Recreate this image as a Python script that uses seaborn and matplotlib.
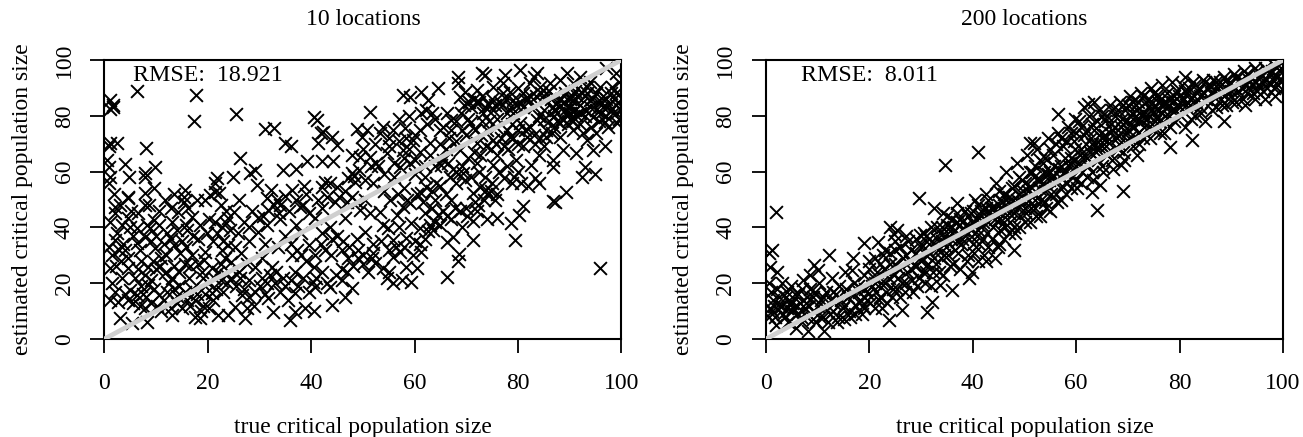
import pandas as pd
import matplotlib
matplotlib.use("Agg")
import matplotlib.pyplot as plt
import seaborn as sns

"""Values read off the reference, as (true, estimated) pairs"""
points_10 = [
    (6.4,88.9),(17.8,87.6),(17.4,78.3),(25.4,80.5),(1,85.7),(1.7,83.3),(1.1,82.3),(1.6,83.8),(31.1,75.3),(32.8,75.6),
    (40.5,79.7),(41.1,78.5),(35,70.4),(36,69.3),(41.9,73.7),(42.2,74.3),(41.4,70.1),(44,72.3),(45,69.5),(48.8,75.2),
    (49.8,72.5),(47.9,66),(49.5,65.4),(1.1,70.1),(2.4,70.1),(0.8,69),(8.1,68.5),(0.5,64.2),(0.8,61.8),(3.9,62.7),
    (4.8,58.2),(1.1,58.2),(0.8,55.8),(9.8,61.8),(7.9,59.6),(7.9,58.2),(26.3,64.8),(29.2,60.6),(28.2,59.6),(24.8,58),
    (21.7,57.6),(21.4,55.8),(34.6,60.6),(37.1,60.8),(39.2,63.8),(42,63.8),(44.3,63.8),(42.7,56.4),(43.7,55.8),(42,54.6),
    (44.9,54.6),(47.9,59.4),(49.2,60.6),(47.2,57.6),(48.5,56.4),(48.2,58.6),(29.6,55.2),(32.2,53.4),(36.3,53.4),(38.7,55),
    (9.5,54),(7.9,52.2),(15.6,53.4),(15.3,51),(4.6,51),(21.4,52.8),(20.5,51.6),(22.2,52.2),(35,51.4),(31.4,50.6),
    (2.1,47.4),(4.6,50.4),(7.9,48),(8.7,48.2),(11.7,49.8),(15.3,49.2),(19.5,49.8),(14.3,45.6),(16.9,43.8),(4.6,43.2),
    (9.5,42.7),(1.1,42),(2.1,45),(21.4,42),(25,45.6),(24,43.2),(22.7,40.3),(23.6,41.6),(25.9,37.9),(6.3,39.7),
    (8.8,39.7),(7.9,36.7),(12.1,37.9),(2.1,35.5),(4,31.9),(6.3,34.3),(9.8,32.5),(13.4,33.7),(14.6,30.7),(18.2,36),
    (24,33.7),(25.3,33.1),(22.7,31.9),(19.5,31.3),(19.2,28.3),(4.6,25.3),(1.1,25.3),(8.5,25.9),(11.7,23.5),(16.3,21.7),
    (18.8,24.1),(20.8,25.3),(1.4,20),(2.1,17),(2.7,13.4),(6.3,15.8),(8.5,19.4),(10.5,15.8),(12.1,17),(7.9,11),
    (3,7.4),(5.4,5.6),(8.2,6.2),(13,8.6),(15,11),(17.5,8),(18.5,7.4),(22,8.6),(24,8.6),(27.2,7.4),
    (25.3,11.6),(27.5,11),(35.9,6.8),(36.9,9.8),(38.8,11),(40.5,10),(44,12.2),(46.6,15.2),(47.9,18.2),(43.7,18.8),
    (40.8,18.8),(40.4,20.6),(36.9,16.4),(35.6,14),(32.7,9.8),(31.7,14.6),(29.8,43.2),(29.8,38.5),(31.7,46.2),(33.7,45),
    (37.9,47.4),(40.8,43.2),(43.7,40.3),(46.6,43.2),(49.5,46.2),(48.8,36),(45.9,31.9),(47.2,28.9),(39.5,33.7),(40.8,30.1),
    (40.5,25.9),(36.9,24.1),(36.3,30.1),(32.4,25.9),(29.2,25.9),(26.3,21.7),(23.7,20),(20.8,16.4),(26.6,15.8),(29.2,17),
    (31,16),(33,20),(34.5,22),(30.5,29),(27.5,27),(24.5,27.5),(22,24),(17,18),(14,15.5),(12.5,20),
    (10,25),(7,28),(3.5,22),(5,17.5),(9,13),(11,10),(14,13),(16,14),(19,12),(21,14),
    (23,17),(28,21),(33.5,33),(35,37),(38,38),(37,41),(34,43),(31.5,41),(28,35),(26.5,31),
    (2.5,38),(0.8,33),(3.5,41),(5.5,37),(10.5,41),(13,42),(16,39),(19.8,38),(21,35),(17,30),
    (15.5,27),(13.5,26),(6,22),(3.2,28),(1.5,30),(9,21),(11,29),(7.5,16),(1,14),(18,16),
    (46,25),(44,36),(42,38),(42,47),(44.6,49),(47,49),(39,52),(34,48),(31,34),(28.5,46),
    (51.3,81.2),(57.8,87.5),(59.1,86.9),(61.3,88.6),(64.6,90.1),(62.6,85.7),(62.3,82.1),(61.3,80.9),(63.3,80.9),(68.4,94),
    (68.4,91.6),(73,95.2),(73.7,94.6),(77.5,94.6),(80.4,96.4),(77.1,91.6),(83,94),(83.6,95.2),(89.4,95.2),(92,94),
    (97.1,97),(99,95.2),(69.7,88.6),(68.8,86.9),(72,89.2),(75.2,90.4),(78.4,88.6),(79.1,85.7),(77.1,88),(81,88),
    (82.3,91.6),(84.2,90.4),(86.2,91.6),(88.1,92.8),(90.7,91.6),(93.3,90.4),(95.9,90.4),(98.1,90.4),(99,88),(86.8,83.3),
    (88.8,84.5),(90.7,85.7),(92,83.9),(93.9,85.7),(96.5,83.3),(98.4,80.9),(89.4,80.9),(91.3,80.3),(94.6,79.7),(96.8,77.9),
    (99.1,77.3),(88.1,77.3),(96.8,69.2),(94.6,67.7),(91.3,66.8),(88.8,67.7),(86.8,64.2),(86.7,61.8),(92.9,61.8),(92.3,58.2),
    (94.9,59.1),(89.3,52.8),(86.8,49.5),(83.3,57.6),(82.6,62.4),(79.7,64.2),(81,69),(78.8,55.8),(77.2,57.6),(73.9,53.4),
    (72.6,54.6),(71.3,52.2),(75.2,62.4),(72,63),(69.4,59.4),(65.2,62.4),(64.2,55.8),(62.3,54.6),(61.3,52.2),(57.1,61.8),
    (59.1,63),(52.6,63),(51.3,65.4),(53.3,73.7),(55.9,74.9),(58.1,75.5),(50.7,74.9),(53.9,76.1),(59.7,71.3),(63,70.1),
    (64.9,74.9),(67.1,78.5),(66.2,80.9),(70.7,77.3),(73.3,80.9),(72,84.5),(75.2,82),(77.8,80.9),(80.4,77.3),(83.6,78.5),
    (85.5,72.5),(88.1,72.5),(90.7,74.9),(93.3,71.3),(81.7,72.5),(78.4,72.5),(75.2,71.3),(72,70.1),(68.8,67.7),(65.5,64.2),
    (57.8,67.7),(54.6,66.5),(95.9,25.6),(79.4,35.5),(78.6,41.5),(80.2,44.4),(81,47.7),(76,43.5),(87.1,49.2),(71.2,42.3),
    (71.2,35.5),(69.1,40.3),(67.5,36.7),(66.2,34.9),(68.6,30.3),(68.4,28),(66.2,22.3),(59.4,20.5),(57.5,21.1),(55.9,20),
    (54.6,21.7),(60.4,25.3),(58.4,25.9),(55.9,29.5),(57.1,31.3),(61.3,31.3),(59.7,30.1),(51.7,28.9),(52.3,27.1),(53.9,25.3),
    (55.9,35.5),(58.4,36.1),(54.9,39.7),(63.6,39),(62.6,38.6),(61,39.7),(59.4,41.5),(64.6,44.4),(63.3,46.8),(67.1,49.8),
    (71.7,49.2),(75.5,49.8),(57.8,47.4),(53.3,45.6),(56.5,44.4),(50.4,38.5),(51.3,45),(59.1,48.6),(53.9,40.9),(74,52),
    (52,56),(54,53),(56,58),(58,54),(60,59),(62,58),(64,50),(66,52),(68,56),(70,47),
    (72,46),(74,43),(67,43),(65,41),(61,34),(57,40),(52,34),(55,24),(62,45),(50.5,50),
    (76,66),(78,68),(80,60),(84,66),(85,69),(83,73),(87,76),(90,79),(92,77),(95,74),
    (97,80),(99,84),(97,86),(95,88),(93,87),(91,89),(89,88),(87,87),(85,86),(83,83),
    (81,83),(79,81),(77,84),(75,86),(73,87),(71,83),(69,81),(67,75),(65,70),(63,66),
    (61,67),(59,68),(57,71),(55,69),(53,62),(85,82),(87,80),(90,83),(93,82),(96,85),
    (98,88),(100,82),(99.5,92),(94,92),(90,86),(86,89),(82,86),(80,90),(76,79),(74,75),
]

# second pass over the crowded parts of the left panel
points_10_dense = [
    (4,16),(4.5,14),(5.5,13),(6.8,12),(7,19),(8,15),(9.5,18),(10.2,12),(11.5,14),(12.8,11),
    (13.5,18),(14.5,19),(15.5,17),(16.5,12),(17.6,14),(18.6,10),(19.5,16),(20.3,11),(21.5,18),(22.5,21),
    (23.5,23),(24.5,22),(25.5,19),(26,24),(27,18),(28,15),(29,12),(30,19),(30.5,22),(31.5,20),
    (32,23),(33.2,24),(34,17),(35,19),(36,21),(37.5,19),(38.5,22),(39.5,17),(41,22),(42,24),
    (43,20),(44.8,23),(46,21),(47,24),(48,26),(49,29),(50,27),(51,24),(6.5,25),(7.8,23),
    (9.4,28),(10.8,26),(12,30),(13,22),(14.5,24),(15.7,33),(16.6,26),(18.2,27),(19,22),(20,20),
    (21.2,22),(22.5,27),(23.3,29),(6.8,32),(8.2,41),(9,35),(10,37),(11.5,34),(12.8,36),(14,39),
    (15,35),(15.8,41),(17.2,37),(18.4,41),(20.2,43),(21.8,38),(23,35),(24.3,39),(2.2,26),(2.8,32),
    (3.6,34),(4.5,29),(5,40),(1.9,52),(3,48),(5.2,46),(6.5,45),(10.5,46),(12.8,47),(13.5,52),
    (16.2,47),(18,50),(22.5,48),(23.5,46),(26,50),(27,42),(28,40),(30.6,44),(32.8,48),(33.4,50),
    (35.8,46),(37,50),(38.4,48),(39.6,45),(41.4,50),(43,51),(45.4,51),(46.6,53),(47.8,51),(48.8,49),
    (36,34),(37.2,32),(38,30),(39,28),(41.8,34),(42.6,32),(43.8,30),(45,37),(46.2,35),(47.4,33),
    (49,32),(50,30),(52,31),(53.5,35),(55,32),(56.4,33),(58,33),(60,35),(62,36),(63,41),
    (64,42),(65.5,46),(66.2,44),(67.8,47),(68.8,46),(70.2,44),(72.2,48),(73.4,50),(74.8,53),(76,52),
    (69.5,84),(70.5,85),(71.4,86),(72.4,85),(73.6,83),(74.4,84),(75.6,84),(76.6,85),(77.6,86),(78.6,83),
    (79.6,84),(80.4,85),(81.4,86),(82.4,87),(83.4,87),(84.4,88),(85.4,88),(86.4,86),(87.6,85),(88.4,86),
    (89.4,86),(90.4,87),(91.4,87),(92.4,88),(93.4,88),(94.4,86),(95.4,85),(96.4,87),(97.6,84),(98.6,86),
    (99.4,85),(84,80),(85,79),(86,78),(87,82),(88,83),(89,82),(90,81),(91,82),(92,81),
    (93,80),(94,83),(95,82),(96,81),(97,83),(98,82),(99,81),(85.4,75),(86.6,74),(87.6,78),
    (88.6,79),(89.6,77),(90.6,78),(92.6,74),(94.2,76),(95.6,78),(97.4,76),(99.6,79),(66.4,63),(67.4,61),
    (68.4,59),(69.2,62),(70.4,65),(71.4,67),(72.6,66),(73.8,69),(74.8,68),(75.8,70),(76.8,72),(77.8,75),
    (78.8,77),(80,75),(81.4,75),(82.4,76),(83.2,70),(84.2,72),(79,72),(80,70),(77.2,69),(72.8,73),
    (70,73),(68,71),(66,68),(64,62),(62,62),(60,64),(58,65),(56,63),(54,59),(50.4,57),
    (55.2,50),(56.8,52),(58.6,50),(60.4,52),(61.6,49),(63.4,53),(65,55),(66.8,58),(68,60),(69.8,57),
    (71,58),(72.4,60),(73.6,58),(75,56),(76.4,60),(77.8,62),(79.2,58),(80.6,56),(82,55),(84,56),
    (61,75),(62.4,77),(64,79),(65.4,76),(66.6,72),(68,78),(69.2,75),(70.4,79),(71.6,75),(73,78),
    (74.4,78),(75.8,76),(57,79),(59,80),(60,73),(58.4,72),(55,72),(52.4,70),(50,68),(51.6,62),
]

points_200 = [
    (1.9,45.4),(1.1,31.9),(0.5,30.7),(0.8,25.9),(2.1,24.1),(12.2,30.1),(9.2,26.5),(10,24.8),(8.5,22.9),(16.9,28.9),
    (16.6,24.7),(19,34.3),(21.7,34.9),(24,40.3),(25.3,39),(24.8,37.5),(29.5,50.7),(29.8,37.3),(32.4,46.8),(34.3,45),
    (36.9,48.6),(23.7,6.8),(31.2,9.8),(22.4,11),(26.3,10.4),(32.1,13.4),(35.9,17.6),(39.2,21.7),(33.7,19.4),(47.9,31.9),
    (44.3,28.9),(42.5,28),(39.8,24.1),(34.7,62.4),(41,67),(64,46.3),(69,53),(56.4,80.5),(59.8,78.9),(61.5,83.3),
    (63.4,85),(62.2,84.2),(81.1,94),(88.6,78.1),(82.4,71.3),(78.2,68.9),(71.8,65.9),(68.6,62.4),(64.7,55.2),(63.1,52.8),
    (51.8,70.1),(51.1,70.1),(0.5,20),(1,17),(1.4,14),(0.7,11),(1.8,8),(2.2,18),(2.8,12),(3.3,9),
    (3.8,15),(4.2,6),(4.8,19),(5.3,11),(5.8,4),(6.2,16),(6.7,8),(7.2,21),(7.7,13),(8.2,3),
    (8.6,18),(9.1,10),(9.6,6),(10.2,20),(10.7,14),(11.2,3),(11.7,17),(12.3,9),(12.8,22),(13.2,13),
    (13.7,6),(14.2,19),(14.8,11),(15.3,24),(15.8,15),(16.3,8),(17,20),(17.5,12),(18,17),(18.5,9),
    (19,23),(19.5,14),(20,28),(20.5,19),(21,11),(21.5,24),(22,15),(22.6,30),(23,20),(23.5,13),
    (24,27),(24.6,18),(25,32),(25.5,22),(26,15),(26.5,29),(27,20),(27.5,35),(28,25),(28.5,17),
    (29,31),(29.5,22),(30,28),(30.5,38),(31,24),(31.5,34),(32,19),(32.5,29),(33,40),(33.5,24),
    (34,35),(34.5,30),(35,44),(35.5,26),(36,38),(36.5,32),(37,42),(37.5,25),(38,36),(38.5,46),
    (39,30),(39.5,40),(40,34),(40.5,50),(41,28),(41.5,44),(42,36),(42.5,52),(43,33),(43.5,47),
    (44,40),(44.5,56),(45,34),(45.5,50),(46,42),(46.5,60),(47,38),(47.5,54),(48,45),(48.5,63),
    (49,40),(49.5,57),(50,47),(50.5,66),(51,42),(51.5,60),(52,50),(52.5,68),(53,44),(53.5,63),
    (54,53),(54.5,72),(55,46),(55.5,66),(56,56),(56.5,74),(57,50),(57.5,69),(58,60),(58.5,76),
    (59,54),(59.5,71),(60,62),(60.5,78),(61,56),(61.5,73),(62,65),(62.5,80),(63,60),(63.5,75),
    (64,68),(64.5,82),(65,62),(65.5,78),(66,71),(66.5,84),(67,64),(67.5,80),(68,73),(68.5,85),
    (69,67),(69.5,82),(70,75),(70.5,87),(71,69),(71.5,84),(72,78),(72.5,88),(73,72),(73.5,85),
    (74,80),(74.5,90),(75,75),(75.5,87),(76,82),(76.5,91),(77,74),(77.5,88),(78,84),(78.5,92),
    (79,78),(79.5,89),(80,85),(80.5,91),(81,76),(81.5,88),(82,86),(82.5,92),(83,80),(83.5,89),
    (84,87),(84.5,93),(85,78),(85.5,90),(86,88),(86.5,93),(87,83),(87.5,90),(88,88),(88.5,94),
    (89,84),(89.5,91),(90,89),(90.5,95),(91,85),(91.5,92),(92,90),(92.5,96),(93,88),(93.5,93),
    (94,91),(94.5,97),(95,89),(95.5,94),(96,92),(96.5,97),(97,90),(97.5,95),(98,93),(98.5,98),
    (99,91),(99.5,96),(99.8,93),(99.6,99),(45,48),(47,45),(49,52),(51,55),(53,57),(55,60),
    (57,62),(59,65),(61,68),(63,70),(65,72),(67,75),(69,77),(71,79),(73,81),(75,83),
    (77,85),(79,87),(81,89),(83,91),(85,92),(87,92),(89,93),(91,94),(93,95),(95,96),
    (97,96),(80,83),(82,84),(84,83),(86,85),(88,86),(90,87),(92,93),(46,36),(48,40),
    (50,42),(52,47),(54,49),(56,52),(58,52),(60,57),(62,58),(66,66),(68,68),(70,71),
    (72,74),(74,76),(76,78),(78,80),(5,13),(7,18),(9,15),(11,8),(13,17),(15,7),
    (17,16),(19,11),(21,20),(23,25),(25,27),(27,30),(29,26),(31,30),(33,33),(35,35),
    (37,35),(39,38),(41,39),(43,42),(45,43),(2,5),(3,20),(4,11),(6,12),(8,8),
]

# second pass over the solid band of the right panel
points_200_dense = [
    (0.6,8),(1.2,10),(1.6,12),(2.5,15),(3,12),(3.6,8),(4,17),(4.6,13),(5,10),(5.6,16),
    (6,9),(6.5,13),(7,6),(7.5,11),(8,15),(8.4,12),(9,7),(9.4,17),(10,12),(10.5,8),
    (11,15),(11.5,11),(12,6),(12.5,14),(13,10),(13.5,16),(14,8),(14.5,14),(15,12),(15.5,18),
    (16,10),(16.5,16),(17.2,9),(17.8,19),(18.2,14),(18.8,12),(19.2,18),(19.8,16),(20.2,13),(20.8,22),
    (21.3,17),(21.8,14),(22.3,20),(22.8,25),(23.2,17),(23.8,22),(24.3,15),(24.8,23),(25.3,18),(25.8,25),
    (26.3,20),(26.8,17),(27.3,24),(27.8,28),(28.2,21),(28.8,26),(29.2,19),(29.8,29),(30.3,24),(30.8,20),
    (31.3,27),(31.8,31),(32.3,24),(32.8,27),(33.2,32),(33.8,29),(34.2,23),(34.8,33),(35.2,30),(35.8,36),
    (36.2,27),(36.8,37),(37.2,31),(37.8,34),(38.2,39),(38.8,28),(39.2,36),(39.8,42),(40.2,31),(40.8,37),
    (41.2,34),(41.8,41),(42.2,30),(42.8,38),(43.2,45),(43.8,36),(44.2,43),(44.8,33),(45.2,39),(45.8,46),
    (46.2,40),(46.8,49),(47.2,42),(47.8,50),(48.2,38),(48.8,47),(49.2,44),(49.8,53),(50.2,45),(50.8,50),
    (51.2,47),(51.8,58),(52.2,44),(52.8,54),(53.2,50),(53.8,60),(54.2,47),(54.8,57),(55.2,52),(55.8,62),
    (56.2,49),(56.8,58),(57.2,55),(57.8,65),(58.2,56),(58.8,63),(59.2,58),(59.8,68),(60.2,54),(60.8,66),
    (61.2,60),(61.8,70),(62.2,62),(62.8,72),(63.2,57),(63.8,67),(64.2,64),(64.8,74),(65.2,60),(65.8,69),
    (66.2,67),(66.8,77),(67.2,61),(67.8,72),(68.2,70),(68.8,79),(69.2,64),(69.8,74),(70.2,72),(70.8,81),
    (71.2,76),(71.8,82),(72.2,70),(72.8,80),(73.2,76),(73.8,83),(74.2,72),(74.8,81),(75.2,78),(75.8,85),
    (76.2,74),(76.8,84),(77.2,80),(77.8,86),(78.2,76),(78.8,85),(79.2,82),(79.8,87),(80.2,80),(80.8,86),
    (81.2,84),(81.8,90),(82.2,79),(82.8,87),(83.2,85),(83.8,90),(84.2,81),(84.8,88),(85.2,86),(85.8,91),
    (86.2,82),(86.8,89),(87.2,87),(87.8,92),(88.2,84),(88.8,90),(89.2,88),(89.8,92),(90.2,85),(90.8,90),
    (91.2,89),(91.8,93),(92.2,86),(92.8,91),(93.2,90),(93.8,94),(94.2,88),(94.8,92),(95.2,91),(95.8,95),
    (96.2,89),(96.8,93),(97.2,92),(97.8,96),(98.2,90),(98.8,94),(99.2,93),(99.7,97),(99.4,89),(98.4,87),
    (96.6,86),(94.6,86),(92.6,84),(30,34),(31,37),(32,40),(33,36),(34,40),(35,41),(36,43),
    (37,45),(38,42),(39,44),(40,46),(41,48),(42,42),(43,50),(44,47),(45,53),(46,52),
    (47,51),(48,55),(49,58),(50,56),(51,60),(52,62),(53,64),(54,65),(55,68),(56,70),
    (57,72),(58,71),(59,74),(60,74),(61,76),(62,75),(63,77),(64,78),(65,80),(66,80),
    (67,82),(68,82),(69,84),(70,84),(71,85),(72,85),(73,87),(74,86),(75,88),(76,87),
    (20,25),(21,29),(22,27),(23,32),(24,31),(25,35),(26,33),(27,37),(28,32),(29,36),
    (30,33),(31.6,36),(32.6,34),(33.6,38),(34.6,37),(35.6,40),(36.6,39),(37.6,43),(38.6,41),(39.6,45),
    (40.6,43),(41.6,46),(42.6,47),(43.6,44),(44.6,46),(45.6,49),(46.6,47),(47.6,48),(48.6,50),(49.6,49),
    (50.6,53),(51.6,52),(52.6,57),(53.6,56),(54.6,59),(55.6,58),(56.6,61),(57.6,60),(58.6,62),(59.6,64),
    (60.6,63),(61.6,66),(62.6,67),(63.6,70),(64.6,70),(65.6,73),(66.6,74),(67.6,76),(68.6,76),(69.6,78),
    (70.6,77),(71.6,80),(72.6,78),(73.6,79),(74.6,82),(75.6,80),(76.6,81),(77.6,83),(78.6,82),(79.6,84),
]

x_ticks = [0, 20, 40, 60, 80, 100]
y_ticks = [0, 20, 40, 60, 80, 100]
diagonal = [0, 100]

panels = [
    ("10 locations", "RMSE:  18.921", points_10 + points_10_dense, 104.4, 5.6),
    ("200 locations", "RMSE:  8.011", points_200 + points_200_dense, 766.0, 6.8),
]

W, H = 1303, 437

sns.set_theme(style="white")
plt.rcParams["font.family"] = ["Liberation Serif", "DejaVu Serif"]
plt.rcParams["axes.edgecolor"] = "black"
plt.rcParams["axes.labelcolor"] = "black"
plt.rcParams["text.color"] = "black"

fig = plt.figure(figsize=(W / 100, H / 100), dpi=100, facecolor="white")

for title, rmse, points, left, rmse_x in panels:
    ax = fig.add_axes([left / W, (H - 339) / H, 517 / W, 279 / H])
    df = pd.DataFrame(points, columns=["true", "estimated"])
    sns.scatterplot(data=df, x="true", y="estimated", marker="x", color="black",
                    s=85, linewidth=1.4, ax=ax, zorder=2)
    ax.plot(diagonal, diagonal, color="#cfcfcf", linewidth=3.4, zorder=3)

    ax.set_xlim(0, 100)
    ax.set_ylim(0, 100)
    ax.set_xticks(x_ticks)
    ax.set_yticks(y_ticks)
    ax.tick_params(axis="both", length=10.4, width=1.3, color="black", direction="out",
                   bottom=True, left=True, labelsize=17, labelcolor="black")
    ax.tick_params(axis="x", pad=14)
    ax.tick_params(axis="y", pad=11)
    for label in ax.get_yticklabels():
        label.set_rotation(90)
        label.set_verticalalignment("center")
    for spine in ax.spines.values():
        spine.set_linewidth(1.5)

    ax.set_xlabel("true critical population size", fontsize=17, labelpad=17)
    ax.set_ylabel("estimated critical population size", fontsize=17, labelpad=15)
    ax.set_title(title, fontsize=17, pad=25, color="black")
    ax.text(rmse_x, 94.6, rmse, fontsize=17.2, va="center", ha="left", zorder=4)

plt.savefig("out.png", dpi=100)
